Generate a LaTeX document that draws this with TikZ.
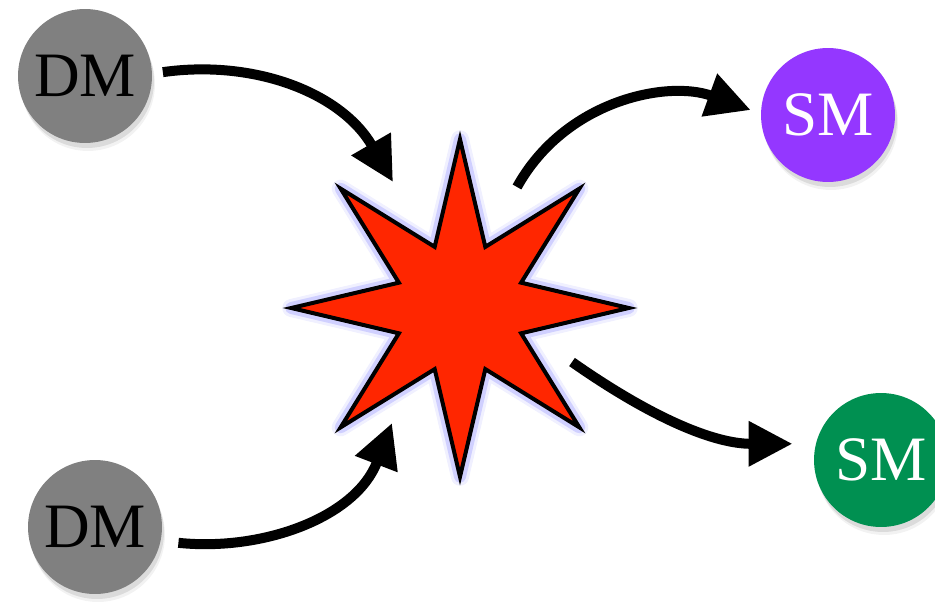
\documentclass[tikz,border=0pt]{standalone}
\usepackage{fontspec}
\setmainfont{Liberation Serif}
\usetikzlibrary{
  shapes.geometric,
  arrows.meta,
  shadows,
  positioning}
\definecolor{dmgray}{HTML}{808080}
\definecolor{grape}{HTML}{9437FF}
\definecolor{moss}{HTML}{009051}
\definecolor{burstred}{HTML}{FF2600}

\begin{document}
\begin{tikzpicture}[
  x=0.02cm, y=-0.02cm,
  >={Triangle[length=8.8mm,width=8.6mm]},
  line width=0.2cm,
  particle/.style={circle,minimum size=2.68cm,inner sep=0pt,outer sep=0pt,
    font=\fontsize{36}{40}\selectfont,
    drop shadow={shadow xshift=0.4mm,shadow yshift=-1mm,opacity=0.2},
    drop shadow={shadow xshift=0.6mm,shadow yshift=-1.6mm,opacity=0.1}},
  flow/.style={->,line width=0.2cm}
]%
  \useasboundingbox (0,0) rectangle (935,601);

  \node[particle,fill=dmgray] (dmA) at (85,76) {DM};
  \node[particle,fill=dmgray] (dmB) at (95,527) {DM};
  \node[particle,fill=grape,text=white] (smA) at (828,115) {SM};
  \node[particle,fill=moss,text=white] (smB) at (881,460) {SM};

  \node[star,star points=8,star point ratio=2.55,minimum size=6.75cm,
    inner sep=0pt,outer sep=0pt,draw,line width=0.08cm,fill=burstred,
    preaction={draw=blue!50,line width=0.36cm,opacity=0.12,line join=round},
    preaction={draw=blue!55,line width=0.24cm,opacity=0.25,line join=round}]
    (burst) at (460,308) {};

  \coordinate (hitA) at (393,182);
  \coordinate (hitB) at (392,423);
  \coordinate (outA) at (517,187);
  \coordinate (outB) at (572,362);

  \draw[flow,shorten <=2.2mm] (dmA.2) to[out=8,in=120] (hitA);
  \draw[flow,shorten <=3.6mm] (dmB.-12) to[out=-6,in=-111] (hitB);
  \draw[flow,shorten >=2.2mm] (outA) to[out=61,in=160] (smA.179);
  \draw[flow,shorten >=4.7mm] (outB) to[out=-35,in=180] (smB.166);
\end{tikzpicture}
\end{document}
